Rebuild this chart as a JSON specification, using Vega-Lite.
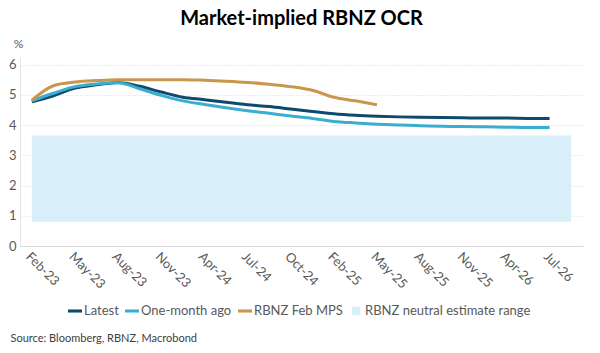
{
  "$schema": "https://vega.github.io/schema/vega-lite/v6.json",
  "width": 563,
  "height": 189,
  "autosize": {"type": "none"},
  "padding": {"left": 20, "top": 57, "right": 17, "bottom": 107},
  "background": "white",
  "config": {
    "font": "Lato",
    "view": {"stroke": null},
    "axis": {"labelFont": "Lato", "titleFont": "Lato"}
  },
  "title": {
    "text": "Market-implied RBNZ OCR",
    "font": "Lato",
    "fontSize": 20,
    "fontWeight": "bold",
    "color": "#000000",
    "anchor": "middle",
    "frame": "group",
    "offset": 8
  },
  "datasets": {
    "band": [
      {"start": "Feb-23", "end": "Aug-26", "low": 0.8, "high": 3.65, "series": "RBNZ neutral estimate range"}
    ],
    "ocr": [
      {"date": "Feb-23", "series": "Latest", "value": 4.77},
      {"date": "Apr-23", "series": "Latest", "value": 4.97},
      {"date": "May-23", "series": "Latest", "value": 5.22},
      {"date": "Jul-23", "series": "Latest", "value": 5.33},
      {"date": "Aug-23", "series": "Latest", "value": 5.41},
      {"date": "Oct-23", "series": "Latest", "value": 5.28},
      {"date": "Nov-23", "series": "Latest", "value": 5.09},
      {"date": "Feb-24", "series": "Latest", "value": 4.92},
      {"date": "Apr-24", "series": "Latest", "value": 4.84},
      {"date": "May-24", "series": "Latest", "value": 4.75},
      {"date": "Jul-24", "series": "Latest", "value": 4.67},
      {"date": "Aug-24", "series": "Latest", "value": 4.61},
      {"date": "Oct-24", "series": "Latest", "value": 4.53},
      {"date": "Nov-24", "series": "Latest", "value": 4.45},
      {"date": "Feb-25", "series": "Latest", "value": 4.37},
      {"date": "Apr-25", "series": "Latest", "value": 4.32},
      {"date": "May-25", "series": "Latest", "value": 4.29},
      {"date": "Jul-25", "series": "Latest", "value": 4.27},
      {"date": "Aug-25", "series": "Latest", "value": 4.26},
      {"date": "Oct-25", "series": "Latest", "value": 4.25},
      {"date": "Nov-25", "series": "Latest", "value": 4.24},
      {"date": "Feb-26", "series": "Latest", "value": 4.23},
      {"date": "Apr-26", "series": "Latest", "value": 4.23},
      {"date": "May-26", "series": "Latest", "value": 4.22},
      {"date": "Jul-26", "series": "Latest", "value": 4.22},
      {"date": "Feb-23", "series": "One-month ago", "value": 4.8},
      {"date": "Apr-23", "series": "One-month ago", "value": 5.05},
      {"date": "May-23", "series": "One-month ago", "value": 5.27},
      {"date": "Jul-23", "series": "One-month ago", "value": 5.36},
      {"date": "Aug-23", "series": "One-month ago", "value": 5.4},
      {"date": "Oct-23", "series": "One-month ago", "value": 5.2},
      {"date": "Nov-23", "series": "One-month ago", "value": 4.98},
      {"date": "Feb-24", "series": "One-month ago", "value": 4.8},
      {"date": "Apr-24", "series": "One-month ago", "value": 4.68},
      {"date": "May-24", "series": "One-month ago", "value": 4.57},
      {"date": "Jul-24", "series": "One-month ago", "value": 4.47},
      {"date": "Aug-24", "series": "One-month ago", "value": 4.39},
      {"date": "Oct-24", "series": "One-month ago", "value": 4.3},
      {"date": "Nov-24", "series": "One-month ago", "value": 4.22},
      {"date": "Feb-25", "series": "One-month ago", "value": 4.12},
      {"date": "Apr-25", "series": "One-month ago", "value": 4.07},
      {"date": "May-25", "series": "One-month ago", "value": 4.03},
      {"date": "Jul-25", "series": "One-month ago", "value": 4.0},
      {"date": "Aug-25", "series": "One-month ago", "value": 3.98},
      {"date": "Oct-25", "series": "One-month ago", "value": 3.96},
      {"date": "Nov-25", "series": "One-month ago", "value": 3.95},
      {"date": "Feb-26", "series": "One-month ago", "value": 3.94},
      {"date": "Apr-26", "series": "One-month ago", "value": 3.93},
      {"date": "May-26", "series": "One-month ago", "value": 3.92},
      {"date": "Jul-26", "series": "One-month ago", "value": 3.92},
      {"date": "Feb-23", "series": "RBNZ Feb MPS", "value": 4.82},
      {"date": "Apr-23", "series": "RBNZ Feb MPS", "value": 5.3},
      {"date": "May-23", "series": "RBNZ Feb MPS", "value": 5.42},
      {"date": "Jul-23", "series": "RBNZ Feb MPS", "value": 5.47},
      {"date": "Aug-23", "series": "RBNZ Feb MPS", "value": 5.5},
      {"date": "Oct-23", "series": "RBNZ Feb MPS", "value": 5.5},
      {"date": "Nov-23", "series": "RBNZ Feb MPS", "value": 5.5},
      {"date": "Feb-24", "series": "RBNZ Feb MPS", "value": 5.5},
      {"date": "Apr-24", "series": "RBNZ Feb MPS", "value": 5.48},
      {"date": "May-24", "series": "RBNZ Feb MPS", "value": 5.45},
      {"date": "Jul-24", "series": "RBNZ Feb MPS", "value": 5.41},
      {"date": "Aug-24", "series": "RBNZ Feb MPS", "value": 5.35},
      {"date": "Oct-24", "series": "RBNZ Feb MPS", "value": 5.27},
      {"date": "Nov-24", "series": "RBNZ Feb MPS", "value": 5.15},
      {"date": "Feb-25", "series": "RBNZ Feb MPS", "value": 4.92},
      {"date": "Apr-25", "series": "RBNZ Feb MPS", "value": 4.8},
      {"date": "May-25", "series": "RBNZ Feb MPS", "value": 4.67}
    ]
  },
  "layer": [
    {
      "data": {"name": "band"},
      "mark": {"type": "rect"},
      "encoding": {
        "x": {"field": "start", "type": "ordinal"},
        "x2": {"field": "end"},
        "y": {"field": "low", "type": "quantitative"},
        "y2": {"field": "high"},
        "color": {"field": "series", "type": "nominal"}
      }
    },
    {
      "data": {"name": "ocr"},
      "mark": {"type": "line", "strokeWidth": 3, "interpolate": "monotone"},
      "encoding": {
        "x": {"field": "date", "type": "ordinal"},
        "y": {"field": "value", "type": "quantitative"},
        "color": {"field": "series", "type": "nominal"}
      }
    }
  ],
  "resolve": {"scale": {"x": "shared", "y": "shared", "color": "shared"}},
  "encoding": {
    "x": {
      "type": "ordinal",
      "scale": {
        "type": "point",
        "padding": 0.55,
        "domain": ["Feb-23","Apr-23","May-23","Jul-23","Aug-23","Oct-23","Nov-23","Feb-24","Apr-24","May-24","Jul-24","Aug-24","Oct-24","Nov-24","Feb-25","Apr-25","May-25","Jul-25","Aug-25","Oct-25","Nov-25","Feb-26","Apr-26","May-26","Jul-26","Aug-26"]
      },
      "axis": {
        "values": ["Feb-23","May-23","Aug-23","Nov-23","Apr-24","Jul-24","Oct-24","Feb-25","May-25","Aug-25","Nov-25","Apr-26","Jul-26"],
        "labelAngle": 45,
        "labelAlign": "left",
        "labelBaseline": "top",
        "labelFontSize": 13,
        "labelColor": "#595959",
        "labelPadding": 4,
        "labelDx": -19,
        "labelDy": 8,
        "ticks": false,
        "grid": false,
        "domainColor": "#d9d9d9",
        "domainWidth": 1,
        "title": "Source: Bloomberg, RBNZ, Macrobond",
        "titleFontSize": 11,
        "titleFontWeight": "normal",
        "titleColor": "#404040",
        "titleAnchor": "start",
        "titleAlign": "left",
        "titleBaseline": "middle",
        "titleX": -10,
        "titleY": 92
      }
    },
    "y": {
      "type": "quantitative",
      "scale": {"domain": [0, 6.25], "nice": false},
      "axis": {
        "values": [0, 1, 2, 3, 4, 5, 6],
        "labelFontSize": 13,
        "labelColor": "#595959",
        "labelPadding": 4,
        "ticks": false,
        "grid": true,
        "gridColor": "#d9d9d9",
        "gridDash": [1, 2],
        "domainColor": "#e6e6e6",
        "title": "%",
        "titleAngle": 0,
        "titleFontSize": 12,
        "titleFontWeight": "normal",
        "titleColor": "#595959",
        "titleAlign": "center",
        "titleBaseline": "middle",
        "titleX": -2,
        "titleY": -14
      }
    },
    "color": {
      "type": "nominal",
      "scale": {
        "domain": ["Latest", "One-month ago", "RBNZ Feb MPS", "RBNZ neutral estimate range"],
        "range": ["#0d4a6b", "#3badd0", "#c9974c", "#d8eef8"]
      },
      "legend": {
        "orient": "none",
        "legendX": 48,
        "legendY": 247,
        "direction": "horizontal",
        "title": null,
        "labelFontSize": 13,
        "labelColor": "#595959",
        "labelFont": "Lato",
        "labelLimit": 0,
        "symbolSize": 196,
        "columnPadding": 6,
        "labelOffset": 2,
        "symbolStrokeWidth": 0,
        "encode": {
          "symbols": {
            "update": {
              "shape": {"signal": "datum.value == 'RBNZ neutral estimate range' ? 'M-0.6,-0.6H0.6V0.6H-0.6Z' : 'M-1,-0.22H1V0.22H-1Z'"},
              "fill": {"scale": "color", "field": "value"},
              "fillOpacity": {"value": 1},
              "strokeWidth": {"value": 0}
            }
          }
        }
      }
    }
  }
}
